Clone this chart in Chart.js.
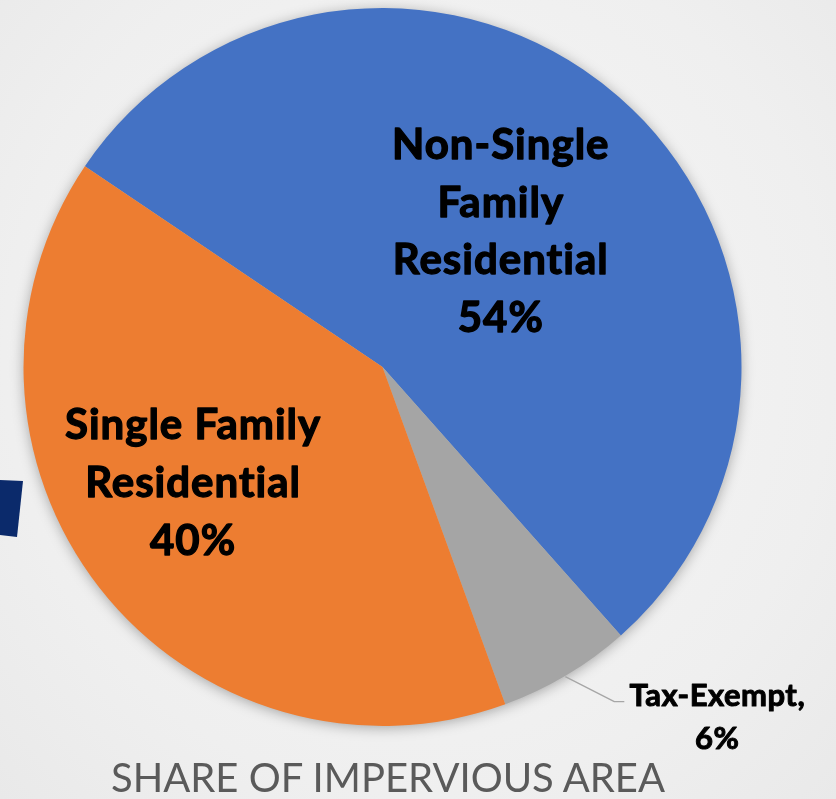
<!DOCTYPE html>
<html>
<head>
<meta charset="utf-8">
<script src="https://cdn.jsdelivr.net/npm/chart.js@4"></script>
<style>
  html, body { margin: 0; padding: 0; }
  body {
    width: 836px; height: 799px; overflow: hidden; position: relative;
    background: radial-gradient(ellipse at 50% 45%, #f7f7f7 0%, #efefef 70%, #e9e9e9 100%);
  }
  #navy {
    position: absolute; left: 0; top: 470px; width: 26px; height: 72px;
    background: #0b2a6b;
    clip-path: polygon(0 10px, 23px 11px, 17px 67px, 0 65px);
  }
  #wrap { position: absolute; left: 0; top: 0; width: 836px; height: 799px; }
  #title {
    position: absolute; left: 0; width: 776px; top: 753px; text-align: center;
    font-family: "Lato", sans-serif; font-size: 40px; color: #5a5a5a;
  }
</style>
</head>
<body>
<div id="navy"></div>
<div id="wrap"><canvas id="myChart"></canvas></div>
<div id="title">SHARE OF IMPERVIOUS AREA</div>
<script>
// slices, clockwise from the blue one
const categories = ["Non-Single Family Residential", "Tax-Exempt", "Single Family Residential"];
const shares = [54, 6, 40];
const sliceColors = ["#4472C4", "#A5A5A5", "#ED7D31"];
const labelLines = [
  ["Non-Single", "Family", "Residential", "54%"],
  ["Tax-Exempt,", "6%"],
  ["Single Family", "Residential", "40%"]
];

// soft shadow under the pie
const pieShadow = {
  id: "pieShadow",
  beforeDatasetsDraw(chart) {
    const arc = chart.getDatasetMeta(0).data[0];
    const c = chart.ctx;
    c.save();
    c.shadowColor = "rgba(0,0,0,0.35)";
    c.shadowBlur = 14;
    c.shadowOffsetY = 2;
    c.fillStyle = "#bbbbbb";
    c.beginPath();
    c.arc(arc.x, arc.y, arc.outerRadius - 1, 0, Math.PI * 2);
    c.fill();
    c.restore();
  }
};

function boldText(c, t, x, y, w) {
  c.lineWidth = w;
  c.strokeText(t, x, y);
  c.fillText(t, x, y);
}

// data labels drawn like the office chart
const sliceLabels = {
  id: "sliceLabels",
  afterDatasetsDraw(chart) {
    const c = chart.ctx;
    const arcs = chart.getDatasetMeta(0).data;
    c.save();
    c.fillStyle = "#000";
    c.strokeStyle = "#000";
    c.lineJoin = "round";
    c.textAlign = "center";
    c.textBaseline = "middle";
    c.letterSpacing = "1px";

    // blue
    let p = arcs[0].tooltipPosition();
    c.font = "bold 42px Lato";
    labelLines[0].forEach((t, i) => boldText(c, t, p.x, p.y - 86 + i * 57.5, 1.3));

    // orange
    p = arcs[2].tooltipPosition();
    labelLines[2].forEach((t, i) => boldText(c, t, p.x - 48, p.y - 52 + i * 58, 1.3));

    // gray, outside with leader line
    const a = arcs[1];
    const mid = (a.startAngle + a.endAngle) / 2;
    const ex = a.x + Math.cos(mid) * (a.outerRadius - 2);
    const ey = a.y + Math.sin(mid) * (a.outerRadius - 2);
    c.font = "bold 31px Lato";
    c.letterSpacing = "0.5px";
    labelLines[1].forEach((t, i) => boldText(c, t, ex + 152, ey + 22 + i * 43, 1));
    c.letterSpacing = "0px";
    c.strokeStyle = "#a6a6a6";
    c.lineWidth = 1.3;
    c.beginPath();
    c.moveTo(ex, ey + 3);
    c.lineTo(ex + 49, ey + 28);
    c.lineTo(ex + 59, ey + 28);
    c.stroke();
    c.restore();
  }
};

const ctx = document.getElementById("myChart");
new Chart(ctx, {
  type: "pie",
  data: {
    labels: categories,
    datasets: [
      {
        data: shares,
        backgroundColor: sliceColors,
        borderWidth: 0,
        hoverOffset: 0
      }
    ]
  },
  options: {
    responsive: true,
    maintainAspectRatio: false,
    animation: false,
    rotation: -56,
    layout: { padding: { left: 23.5, top: 8, right: 94.5, bottom: 73 } },
    plugins: {
      legend: { display: false },
      tooltip: { enabled: false }
    }
  },
  plugins: [pieShadow, sliceLabels]
});
</script>
</body>
</html>
